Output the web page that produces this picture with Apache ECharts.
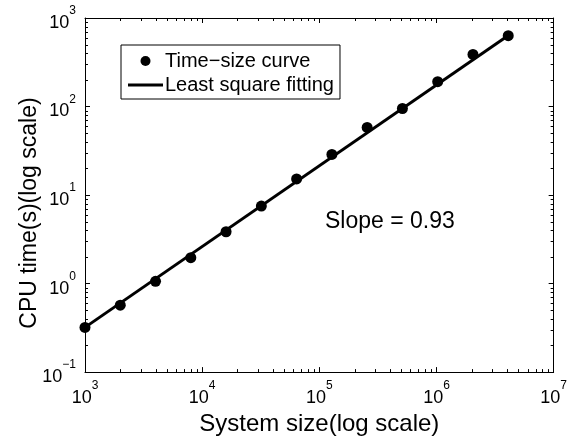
<!DOCTYPE html>
<html>
<head>
<meta charset="utf-8">
<script src="https://cdn.jsdelivr.net/npm/echarts@6/dist/echarts.min.js"></script>
<style>
html,body{margin:0;padding:0;background:#fff;}
#chart{width:570px;height:441px;}
</style>
</head>
<body>
<div id="chart"></div>
<script>
// ---- data ----
const systemSizes = [1000, 2000, 4000, 8000, 16000, 32000, 64000, 128000, 256000, 512000, 1024000, 2048000, 4096000];
const cpuTimes = [0.32, 0.57, 1.06, 1.96, 3.85, 7.5, 15.2, 28.8, 58, 95, 191, 388, 631];
const fitSizes = [1000, 4096000];
const fitTimes = [0.32, 635];
const xDecades = [3, 4, 5, 6, 7];      // tick exponents, x axis
const yDecades = [-1, 0, 1, 2, 3];     // tick exponents, y axis
const minorMultipliers = [2, 3, 4, 5, 6, 7, 8, 9];
const seriesNames = ['Time\u2212size curve', 'Least square fitting'];
const xTitle = 'System size(log scale)';
const yTitle = 'CPU time(s)(log scale)';
const slopeText = 'Slope = 0.93';

const FONT = '"Liberation Sans", Arial, Helvetica, sans-serif';

const xMinor = [];
xDecades.slice(0, -1).forEach(d => minorMultipliers.forEach(m => xMinor.push([m * Math.pow(10, d), 1])));
const yMinor = [];
yDecades.slice(0, -1).forEach(d => minorMultipliers.forEach(m => yMinor.push([10000, m * Math.pow(10, d)])));

function powLabel(v) {
  const e = Math.round(Math.log10(v));
  return '{b|10}{e|' + String(e).replace('-', '\u2212') + '}';
}
const richLabel = {
  b: {fontSize: 18, fontFamily: FONT, color: '#000', lineHeight: 27, verticalAlign: 'bottom', height: 18},
  e: {fontSize: 12, fontFamily: FONT, color: '#000', lineHeight: 27, verticalAlign: 'top', height: 12}
};

const xMin = Math.pow(10, xDecades[0]), xMax = Math.pow(10, xDecades[xDecades.length - 1]);
const yMin = Math.pow(10, yDecades[0]), yMax = Math.pow(10, yDecades[yDecades.length - 1]);

function baseAxis(extra) {
  return Object.assign({
    type: 'log', logBase: 10,
    axisLine: {show: true, lineStyle: {color: '#000', width: 1}},
    axisTick: {show: true, inside: true, length: 5, lineStyle: {color: '#000'}},
    splitLine: {show: false},
    minorTick: {show: false}
  }, extra);
}

const chart = echarts.init(document.getElementById('chart'), null, {renderer: 'canvas'});
chart.setOption({
  animation: false,
  backgroundColor: '#fff',
  grid: {left: 85, right: 16, top: 18, bottom: 63},
  xAxis: [
    baseAxis({
      position: 'bottom', min: xMin, max: xMax,
      name: xTitle, nameLocation: 'middle', nameGap: 33,
      nameTextStyle: {fontSize: 24, fontFamily: FONT, color: '#000'},
      axisLabel: {formatter: powLabel, rich: richLabel, margin: 8}
    }),
    baseAxis({position: 'top', min: xMin, max: xMax, axisLabel: {show: false}})
  ],
  yAxis: [
    baseAxis({
      position: 'left', min: yMin, max: yMax,
      axisLabel: {formatter: powLabel, rich: richLabel, margin: 9, padding: [1, 0, 0, 0]}
    }),
    baseAxis({position: 'right', min: yMin, max: yMax, axisLabel: {show: false}})
  ],
  legend: {
    orient: 'vertical', left: 121, top: 45,
    backgroundColor: '#fff', borderColor: '#000', borderWidth: 1, borderRadius: 0,
    padding: [6, 6, 4, 7],
    itemWidth: 35, itemHeight: 10, itemGap: 4,
    symbolKeepAspect: true,
    textStyle: {fontSize: 20, fontFamily: FONT, color: '#000', padding: [0, 0, 0, -3]},
    data: [
      {name: seriesNames[0], icon: 'circle'},
      {name: seriesNames[1], icon: 'path://M0 0H35V3H0Z'}
    ]
  },
  graphic: [
    {
      type: 'text', left: 325, top: 210,
      style: {text: slopeText, fontSize: 23, fontFamily: FONT, fill: '#000'}
    },
    {
      type: 'text', x: 30, y: 213, rotation: Math.PI / 2,
      style: {text: yTitle, fontSize: 23, fontFamily: FONT, fill: '#000', align: 'center', verticalAlign: 'middle'}
    }
  ],
  series: [
    {
      name: seriesNames[1], type: 'line', z: 2,
      data: fitSizes.map((x, i) => [x, fitTimes[i]]),
      symbol: 'none', lineStyle: {color: '#000', width: 3}, itemStyle: {color: '#000'}
    },
    {
      name: seriesNames[0], type: 'scatter', z: 3,
      data: systemSizes.map((x, i) => [x, cpuTimes[i]]),
      symbol: 'circle', symbolSize: 11, itemStyle: {color: '#000', opacity: 1}
    },
    {
      type: 'custom', silent: true, z: 4, data: xMinor,
      renderItem: function (params, api) {
        const cs = params.coordSys;
        const x = Math.round(api.coord([api.value(0), 1])[0]) + 0.5;
        const b = cs.y + cs.height, t = cs.y;
        return {type: 'group', children: [
          {type: 'line', shape: {x1: x, y1: b, x2: x, y2: b - 3}, style: {stroke: '#000', lineWidth: 1}},
          {type: 'line', shape: {x1: x, y1: t, x2: x, y2: t + 3}, style: {stroke: '#000', lineWidth: 1}}
        ]};
      }
    },
    {
      type: 'custom', silent: true, z: 4, data: yMinor,
      renderItem: function (params, api) {
        const cs = params.coordSys;
        const y = Math.round(api.coord([10000, api.value(1)])[1]) + 0.5;
        const l = cs.x, r = cs.x + cs.width;
        return {type: 'group', children: [
          {type: 'line', shape: {x1: l, y1: y, x2: l + 3, y2: y}, style: {stroke: '#000', lineWidth: 1}},
          {type: 'line', shape: {x1: r, y1: y, x2: r - 3, y2: y}, style: {stroke: '#000', lineWidth: 1}}
        ]};
      }
    }
  ]
});
</script>
</body>
</html>
